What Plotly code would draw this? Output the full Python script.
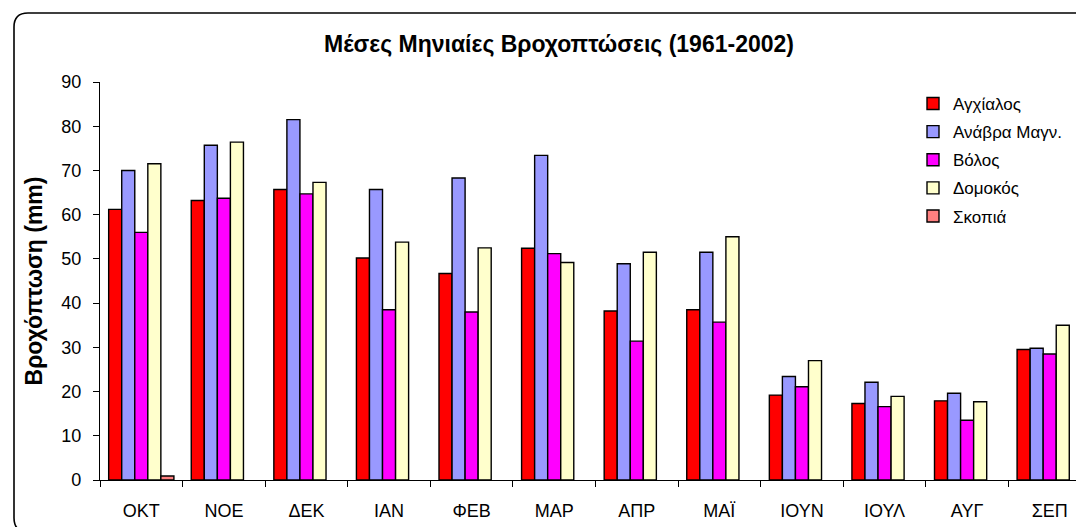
import plotly.graph_objects as go

months = ["ΟΚΤ", "ΝΟΕ", "ΔΕΚ", "ΙΑΝ", "ΦΕΒ", "ΜΑΡ", "ΑΠΡ", "ΜΑΪ", "ΙΟΥΝ", "ΙΟΥΛ", "ΑΥΓ", "ΣΕΠ"]

agchialos = [61.2, 63.2, 65.7, 50.2, 46.7, 52.4, 38.2, 38.5, 19.2, 17.3, 17.9, 29.5]
anavra = [70.0, 75.7, 81.5, 65.7, 68.3, 73.4, 48.9, 51.5, 23.4, 22.1, 19.6, 29.8]
volos = [56.0, 63.7, 64.7, 38.5, 38.0, 51.2, 31.4, 35.7, 21.1, 16.6, 13.5, 28.5]
domokos = [71.5, 76.4, 67.3, 53.8, 52.5, 49.2, 51.5, 55.0, 27.0, 18.9, 17.7, 35.0]
skopia = [0.9, None, None, None, None, None, None, None, None, None, None, None]

series = [
    ("Αγχίαλος", agchialos, "#FF0000"),
    ("Ανάβρα Μαγν.", anavra, "#9999FF"),
    ("Βόλος", volos, "#FF00FF"),
    ("Δομοκός", domokos, "#FFFFCC"),
    ("Σκοπιά", skopia, "#FF8080"),
]

FONT = "Liberation Sans, Arial, sans-serif"
W, H = 1084, 527
L, R, T, B = 92, 1083, 74, 472

fig = go.Figure()
for i, (name, vals, col) in enumerate(series):
    fig.add_trace(go.Bar(
        x=months, y=vals, name=name, legendgroup=f"g{i}",
        marker=dict(color=col, line=dict(color="#000000", width=1.4)),
    ))


def px2paper(px, py):
    return (px - L) / (R - L), (B - py) / (B - T)


def rounded_rect(x0, y0, x1, y1, r):
    def p(x, y):
        a, b = px2paper(x, y)
        return f"{a:.5f},{b:.5f}"
    return (f"M {p(x0 + r, y0)} L {p(x1 - r, y0)} Q {p(x1, y0)} {p(x1, y0 + r)} "
            f"L {p(x1, y1 - r)} Q {p(x1, y1)} {p(x1 - r, y1)} "
            f"L {p(x0 + r, y1)} Q {p(x0, y1)} {p(x0, y1 - r)} "
            f"L {p(x0, y0 + r)} Q {p(x0, y0)} {p(x0 + r, y0)} Z")


fig.add_shape(type="path", xref="paper", yref="paper",
              path=rounded_rect(6, 5, 1081, 524, 14),
              line=dict(color="#000000", width=1.6), layer="below")

lx, ly = px2paper(905, 78)

fig.update_layout(
    width=W, height=H,
    margin=dict(l=L, r=W - R, t=T, b=H - B, autoexpand=False),
    paper_bgcolor="white", plot_bgcolor="white",
    font=dict(family=FONT, size=18, color="#000000"),
    title=dict(text="<b>Μέσες Μηνιαίες Βροχοπτώσεις (1961-2002)</b>",
               font=dict(family=FONT, size=23, color="#000000"),
               xref="container", x=551 / W, xanchor="center",
               yref="container", y=1 - 36 / H, yanchor="middle"),
    barmode="group", bargap=0.21, bargroupgap=0,
    showlegend=True,
    legend=dict(x=lx, y=ly, xanchor="left", yanchor="top",
                font=dict(family=FONT, size=17, color="#000000"),
                traceorder="grouped", tracegroupgap=3,
                bgcolor="rgba(0,0,0,0)", borderwidth=0),
    xaxis=dict(
        showline=True, linecolor="#000000", linewidth=1.3,
        ticks="outside", ticklen=6, tickcolor="#000000", tickwidth=1.3,
        tickson="boundaries", showgrid=False, ticklabelstandoff=14,
        tickfont=dict(family=FONT, size=18, color="#000000"),
    ),
    yaxis=dict(
        range=[0, 90], dtick=10, tick0=0,
        showline=True, linecolor="#000000", linewidth=1.3,
        ticks="outside", ticklen=6, tickcolor="#000000", tickwidth=1.3,
        showgrid=False, zeroline=False, ticklabelstandoff=8,
        tickfont=dict(family=FONT, size=18, color="#000000"),
        title=dict(text="<b>Βροχόπτωση (mm)</b>",
                   font=dict(family=FONT, size=23, color="#000000"),
                   standoff=12),
    ),
)

fig.write_html("out.html")
